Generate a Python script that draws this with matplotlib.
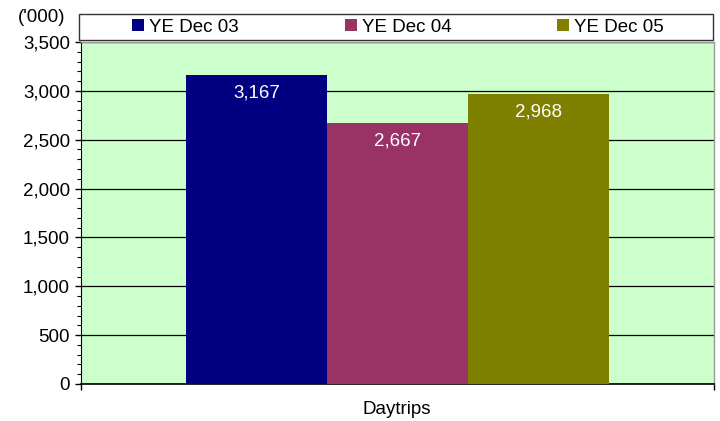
import matplotlib.pyplot as plt
from matplotlib.patches import Rectangle
from matplotlib.ticker import MultipleLocator, FuncFormatter

plt.rcParams['font.family'] = ['Liberation Sans', 'DejaVu Sans']

category = "Daytrips"
series = ["YE Dec 03", "YE Dec 04", "YE Dec 05"]
values = [3167, 2667, 2968]
colors = ["#000080", "#993366", "#808000"]

W, H = 720, 421
fig = plt.figure(figsize=(W / 100, H / 100), dpi=100)
ax = fig.add_axes([81 / W, 1 - 384 / H, 633 / W, 342 / H])
ax.set_facecolor("#CCFFCC")

bar_w = 0.2228
offsets = [-bar_w, 0, bar_w]
for name, v, c, off in zip(series, values, colors, offsets):
    ax.bar(off, v, width=bar_w, color=c, label=name, zorder=3)
    ax.annotate(f"{v:,}", (off, v), xytext=(0, -13), textcoords="offset points",
                ha="center", va="center", color="white", fontsize=13.5, zorder=4)

ax.set_xlim(-0.5, 0.5)
ax.set_ylim(0, 3500)
ax.yaxis.set_major_locator(MultipleLocator(500))
ax.yaxis.set_minor_locator(MultipleLocator(100))
ax.yaxis.set_major_formatter(FuncFormatter(lambda v, p: f"{int(v):,}"))
ax.grid(axis="y", which="major", color="black", linewidth=0.9, zorder=1)
ax.set_axisbelow(True)

ax.set_xticks([-0.5, 0.5], minor=True)
ax.set_xticks([])
ax.tick_params(axis="x", which="minor", length=4, width=1, color="black")
ax.tick_params(axis="y", which="major", length=4, width=1, labelsize=13.5, pad=4)
ax.tick_params(axis="y", which="minor", length=3, width=0.8)

for s in ["top", "right"]:
    ax.spines[s].set_color("#999999")
    ax.spines[s].set_linewidth(1)
ax.spines["left"].set_color("black")
ax.spines["bottom"].set_color("black")
ax.spines["bottom"].set_linewidth(1.2)

fig.text(42 / W, 1 - 17 / H, "('000)", fontsize=13.5, ha="center", va="center")
fig.text(397 / W, 1 - 410 / H, category, fontsize=13.5, ha="center", va="center")

# legend box spanning the plot width, entries spread evenly inside it
fig.patches.append(Rectangle((79 / W, 1 - 40 / H), 634 / W, 26 / H,
                             transform=fig.transFigure, facecolor="white",
                             edgecolor="#333333", linewidth=1, zorder=0))
leg = fig.legend(loc="center", bbox_to_anchor=(398 / W, 1 - 27 / H), ncol=3,
                 frameon=False, fontsize=13.5, handlelength=0.65, handleheight=0.65,
                 handletextpad=0.25, columnspacing=5.65, borderpad=0)

fig.savefig("out.png", dpi=100)
